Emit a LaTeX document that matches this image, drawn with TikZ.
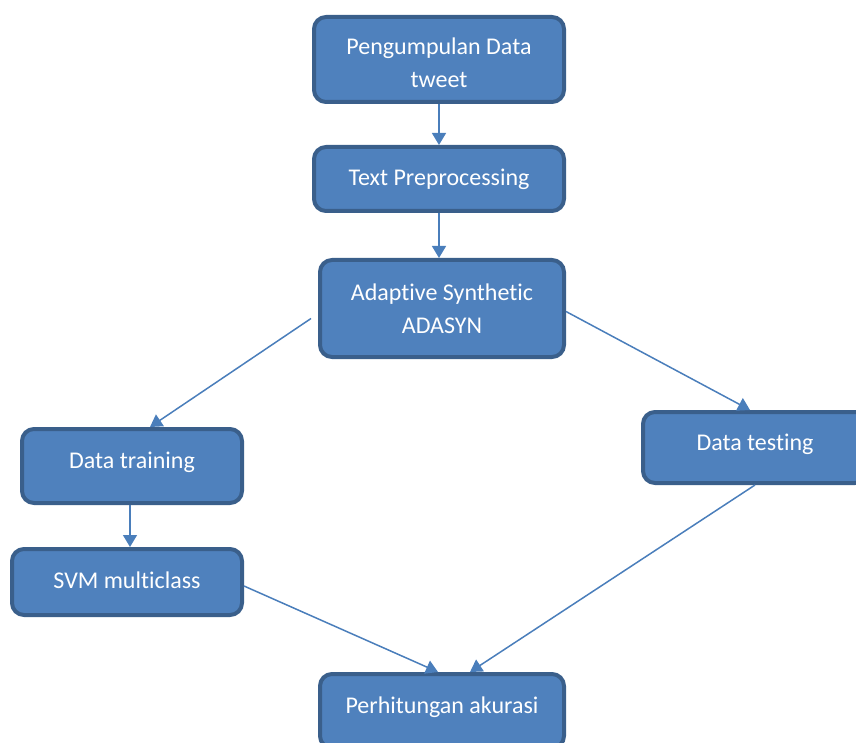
\documentclass[tikz,border=0pt]{standalone}
\usepackage{fontspec}
\setmainfont{Carlito}[Ligatures=NoCommon]
\usepackage{tikz}
\usetikzlibrary{positioning}
\usetikzlibrary{calc}
\usetikzlibrary{arrows.meta}

\definecolor{boxfill}{HTML}{4F81BD}
\definecolor{boxline}{HTML}{3A5F8B}
\definecolor{arrline}{HTML}{4A7EBB}
\newcommand{\geser}[2]{\raisebox{#1}[\height][\depth]{#2}}

\begin{document}
\begin{tikzpicture}[x=1pt,y=-1pt,
		flowbox/.style = {fill = boxfill, draw = boxline, line width = 4pt, rectangle, rounded corners = 12pt, text = white, align = center, font = \fontsize{24}{33}\selectfont},
		flowarrow/.style = {draw = arrline, line width = 1.5pt, -{Triangle[width=14pt,length=12pt]}}]
		\useasboundingbox (0,0) rectangle (856,743);
		\node[flowbox, minimum width = 250pt, minimum height = 85pt] at (439,59.5) (kumpul) {\geser{-3pt}{\parbox{240pt}{\centering Pengumpulan Data\\tweet}}};
		\node[flowbox, minimum width = 250pt, minimum height = 64pt] at (439,179) (prepro) {Text Preprocessing};
		\node[flowbox, minimum width = 244pt, minimum height = 97pt] at (442,308.5) (adasyn) {Adaptive Synthetic\\ADASYN};
		\node[flowbox, minimum width = 220pt, minimum height = 74pt] at (132,466) (train) {\geser{4pt}{Data training}};
		\node[flowbox, minimum width = 224pt, minimum height = 71pt] at (755,447.5) (test) {\geser{3pt}{Data testing}};
		\node[flowbox, minimum width = 230pt, minimum height = 66pt] at (127,582) (svm) {\geser{2pt}{SVM multiclass}};
		\node[flowbox, minimum width = 244pt, minimum height = 74pt] at (442,711) (akurasi) {\geser{4pt}{Perhitungan akurasi}};
		% panah
		\draw[flowarrow] (kumpul.south) -- (prepro.north);
		\draw[flowarrow] (prepro.south) -- (prepro.south |- adasyn.north);
		\draw[flowarrow] ([shift={(-7,10)}]adasyn.west) -- ([xshift=18pt]train.north);
		\draw[flowarrow] ([yshift=-3pt]adasyn.east) -- ([xshift=-5pt]test.north);
		\draw[flowarrow] ([xshift=-2pt]train.south) -- ([xshift=3pt]svm.north);
		\draw[flowarrow] ([yshift=-4pt]svm.east) -- ([xshift=-4pt]akurasi.north);
		\draw[flowarrow] (test.south) -- ([xshift=28pt]akurasi.north);
	\end{tikzpicture}
\end{document}
